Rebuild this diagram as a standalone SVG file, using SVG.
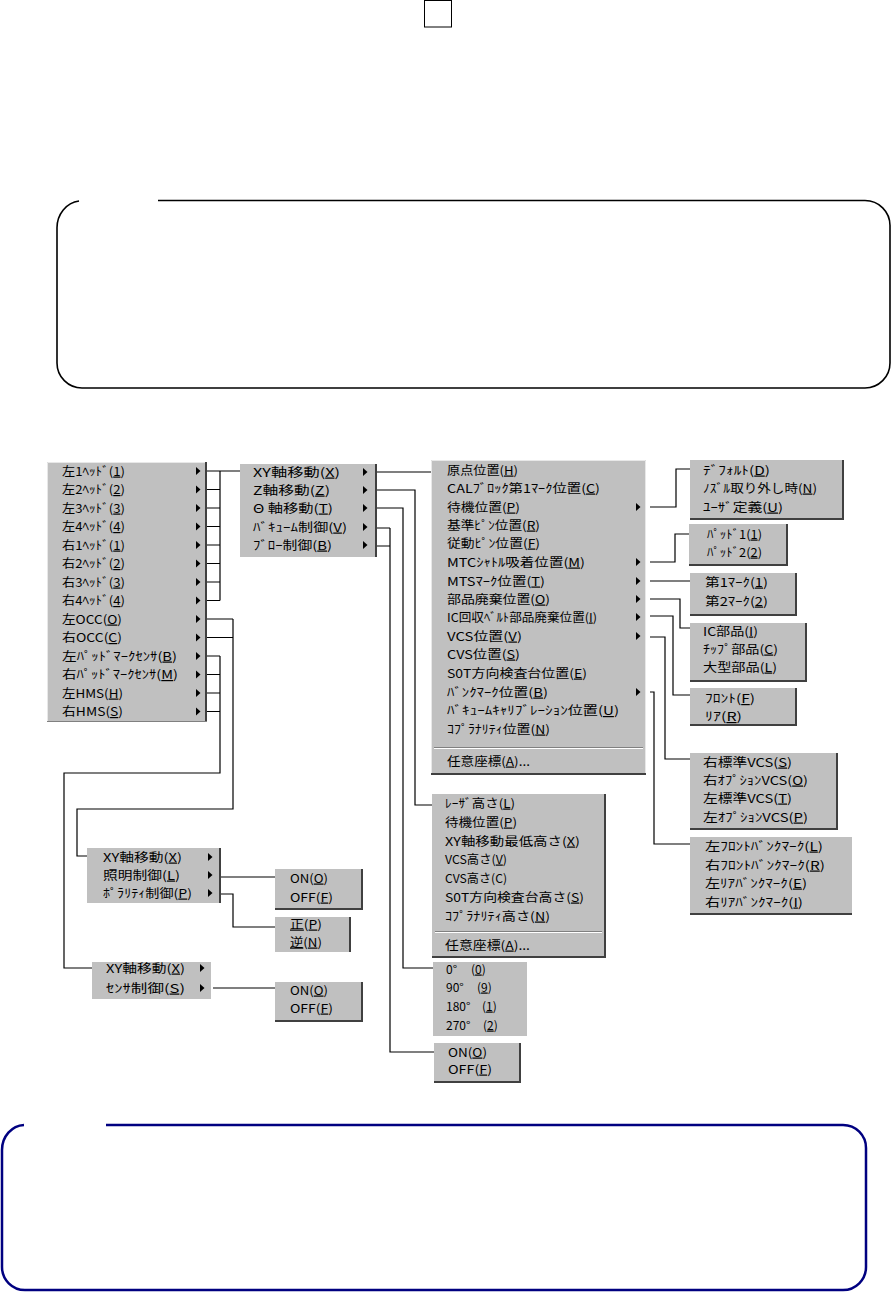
<svg xmlns="http://www.w3.org/2000/svg" xmlns:xlink="http://www.w3.org/1999/xlink" width="892" height="1292" viewBox="0 0 892 1292">
<style>
.m{fill:#c0c0c0}
.sh{stroke:#404040;stroke-width:2;fill:none}
.hi{stroke:#e8e8e8;stroke-width:1;fill:none}
.t{font-family:"Noto Sans CJK JP","Noto Sans",sans-serif;font-size:12px;fill:#000}
.u{text-decoration:underline}
.c{stroke:#000;stroke-width:1.2;fill:none}
.sepd{stroke:#808080;stroke-width:1}
.sepl{stroke:#ffffff;stroke-width:1}
</style>
<defs>
<path id="arr" d="M-2,-4 L2.5,0 L-2,4 Z" fill="#000"/>
</defs>
<rect width="892" height="1292" fill="#fff"/>

<g id="topbox"><rect x="424.5" y="0.5" width="27" height="26.5" fill="none" stroke="#000" stroke-width="1"/></g>
<g id="notebox1"><path d="M158,200.5 H865 A25,25 0 0 1 890,225.5 V363 A25,25 0 0 1 865,388 H82 A25,25 0 0 1 57,363 V228 A25,27 0 0 1 79,201" fill="none" stroke="#000" stroke-width="1.6"/></g>
<g id="notebox2"><path d="M106,1125 H843 A23,23 0 0 1 866,1148 V1267 A23,23 0 0 1 843,1290 H25 A23,23 0 0 1 2,1267 V1150 A23,25 0 0 1 24,1125" fill="none" stroke="#000080" stroke-width="2.5"/></g>

<g id="connectors">
<path class="c" d="M207,471 H240 M207,489.5 H220 M207,508 H220 M207,526.5 H220 M207,545 H220 M207,563.5 H220 M207,582 H220 M207,600.5 H220 M220,471 V600.5"/>
<path class="c" d="M207,619 H233 M207,637.5 H233 M233,619 V809 H77 V856 H87"/>
<path class="c" d="M207,656 H220 M207,674.5 H220 M207,693 H220 M207,711.5 H220 M220,656 V773 H64 V968 H92"/>
<path class="c" d="M377,472 H431"/>
<path class="c" d="M377,490 H415 V805 H432"/>
<path class="c" d="M377,508 H403 V968 H433"/>
<path class="c" d="M377,528 H390 M377,546 H390 M390,528 V1052 H434"/>
<path class="c" d="M650,507 H676 V469 H690"/>
<path class="c" d="M650,562 H675 V534 H689"/>
<path class="c" d="M650,581 H690"/>
<path class="c" d="M650,599 H680 V628 H690"/>
<path class="c" d="M650,616 H673 V695 H690"/>
<path class="c" d="M650,637 H665 V759 H690"/>
<path class="c" d="M650,692 H654 V844 H690"/>
<path class="c" d="M221,877 H275"/>
<path class="c" d="M221,894 H233 V927 H275"/>
<path class="c" d="M213,988 H275"/>
</g>

<g id="menu-head">
<rect class="m" x="47" y="462" width="160" height="260"/>
<path class="hi" d="M47.5,721 V462.5 H205"/>
<path class="sh" d="M206,462 V722"/>
<path class="sepd" d="M47,721.5 H207"/>
<g class="t">
<text x="62" y="475.5" textLength="63" lengthAdjust="spacingAndGlyphs">左1ﾍｯﾄﾞ(<tspan class="u">1</tspan>)</text>
<text x="62" y="494" textLength="63" lengthAdjust="spacingAndGlyphs">左2ﾍｯﾄﾞ(<tspan class="u">2</tspan>)</text>
<text x="62" y="512.5" textLength="63" lengthAdjust="spacingAndGlyphs">左3ﾍｯﾄﾞ(<tspan class="u">3</tspan>)</text>
<text x="62" y="531" textLength="63" lengthAdjust="spacingAndGlyphs">左4ﾍｯﾄﾞ(<tspan class="u">4</tspan>)</text>
<text x="62" y="549.5" textLength="63" lengthAdjust="spacingAndGlyphs">右1ﾍｯﾄﾞ(<tspan class="u">1</tspan>)</text>
<text x="62" y="568" textLength="63" lengthAdjust="spacingAndGlyphs">右2ﾍｯﾄﾞ(<tspan class="u">2</tspan>)</text>
<text x="62" y="586.5" textLength="63" lengthAdjust="spacingAndGlyphs">右3ﾍｯﾄﾞ(<tspan class="u">3</tspan>)</text>
<text x="62" y="605" textLength="63" lengthAdjust="spacingAndGlyphs">右4ﾍｯﾄﾞ(<tspan class="u">4</tspan>)</text>
<text x="62" y="623.5" textLength="60" lengthAdjust="spacingAndGlyphs">左OCC(<tspan class="u">O</tspan>)</text>
<text x="62" y="642" textLength="60" lengthAdjust="spacingAndGlyphs">右OCC(<tspan class="u">C</tspan>)</text>
<text x="62" y="660.5" textLength="115" lengthAdjust="spacingAndGlyphs">左ﾊﾟｯﾄﾞﾏｰｸｾﾝｻ(<tspan class="u">B</tspan>)</text>
<text x="62" y="679" textLength="116" lengthAdjust="spacingAndGlyphs">右ﾊﾟｯﾄﾞﾏｰｸｾﾝｻ(<tspan class="u">M</tspan>)</text>
<text x="62" y="697.5" textLength="61" lengthAdjust="spacingAndGlyphs">左HMS(<tspan class="u">H</tspan>)</text>
<text x="62" y="716" textLength="61" lengthAdjust="spacingAndGlyphs">右HMS(<tspan class="u">S</tspan>)</text>
</g>
<use xlink:href="#arr" x="198" y="471"/><use xlink:href="#arr" x="198" y="489.5"/><use xlink:href="#arr" x="198" y="508"/><use xlink:href="#arr" x="198" y="526.5"/><use xlink:href="#arr" x="198" y="545"/><use xlink:href="#arr" x="198" y="563.5"/><use xlink:href="#arr" x="198" y="582"/><use xlink:href="#arr" x="198" y="600.5"/><use xlink:href="#arr" x="198" y="619"/><use xlink:href="#arr" x="198" y="637.5"/><use xlink:href="#arr" x="198" y="656"/><use xlink:href="#arr" x="198" y="674.5"/><use xlink:href="#arr" x="198" y="693"/><use xlink:href="#arr" x="198" y="711.5"/>
</g>

<g id="menu-axis">
<rect class="m" x="240" y="464" width="137" height="93"/>
<path class="sh" d="M376,464 V557"/>
<g class="t">
<text x="253" y="476.5" textLength="87" lengthAdjust="spacingAndGlyphs">XY軸移動(<tspan class="u">X</tspan>)</text>
<text x="253" y="494.5" textLength="77" lengthAdjust="spacingAndGlyphs">Z軸移動(<tspan class="u">Z</tspan>)</text>
<text x="253" y="512.5" textLength="80" lengthAdjust="spacingAndGlyphs">Θ 軸移動(<tspan class="u">T</tspan>)</text>
<text x="253" y="531.5" textLength="94" lengthAdjust="spacingAndGlyphs">ﾊﾞｷｭｰﾑ制御(<tspan class="u">V</tspan>)</text>
<text x="253" y="549.5" textLength="79" lengthAdjust="spacingAndGlyphs">ﾌﾞﾛｰ制御(<tspan class="u">B</tspan>)</text>
</g>
<use xlink:href="#arr" x="365" y="472"/><use xlink:href="#arr" x="365" y="490"/><use xlink:href="#arr" x="365" y="508"/><use xlink:href="#arr" x="365" y="527"/><use xlink:href="#arr" x="365" y="545"/>
</g>

<g id="menu-xy">
<rect class="m" x="431" y="460" width="215" height="315"/>
<path class="hi" d="M431.5,774 V460.5 H645.5 V774"/>
<path class="sh" d="M431,774 H646"/>
<line class="sepd" x1="434" y1="747.5" x2="643" y2="747.5"/>
<line class="sepl" x1="434" y1="748.5" x2="643" y2="748.5"/>
<g class="t">
<text x="447" y="474.5" textLength="71" lengthAdjust="spacingAndGlyphs">原点位置(<tspan class="u">H</tspan>)</text>
<text x="447" y="492.5" textLength="153" lengthAdjust="spacingAndGlyphs">CALﾌﾞﾛｯｸ第1ﾏｰｸ位置(<tspan class="u">C</tspan>)</text>
<text x="447" y="511.5" textLength="73" lengthAdjust="spacingAndGlyphs">待機位置(<tspan class="u">P</tspan>)</text>
<text x="447" y="529.5" textLength="93" lengthAdjust="spacingAndGlyphs">基準ﾋﾟﾝ位置(<tspan class="u">R</tspan>)</text>
<text x="447" y="547.5" textLength="93" lengthAdjust="spacingAndGlyphs">従動ﾋﾟﾝ位置(<tspan class="u">F</tspan>)</text>
<text x="447" y="566.5" textLength="138" lengthAdjust="spacingAndGlyphs">MTCｼｬﾄﾙ吸着位置(<tspan class="u">M</tspan>)</text>
<text x="447" y="585.5" textLength="98" lengthAdjust="spacingAndGlyphs">MTSﾏｰｸ位置(<tspan class="u">T</tspan>)</text>
<text x="447" y="603.5" textLength="103" lengthAdjust="spacingAndGlyphs">部品廃棄位置(<tspan class="u">O</tspan>)</text>
<text x="447" y="621.5" textLength="150" lengthAdjust="spacingAndGlyphs">IC回収ﾍﾞﾙﾄ部品廃棄位置(<tspan class="u">I</tspan>)</text>
<text x="447" y="640.5" textLength="75" lengthAdjust="spacingAndGlyphs">VCS位置(<tspan class="u">V</tspan>)</text>
<text x="447" y="658.5" textLength="73" lengthAdjust="spacingAndGlyphs">CVS位置(<tspan class="u">S</tspan>)</text>
<text x="447" y="677.5" textLength="140" lengthAdjust="spacingAndGlyphs">S0T方向検査台位置(<tspan class="u">E</tspan>)</text>
<text x="447" y="696.5" textLength="101" lengthAdjust="spacingAndGlyphs">ﾊﾞﾝｸﾏｰｸ位置(<tspan class="u">B</tspan>)</text>
<text x="447" y="715" textLength="172" lengthAdjust="spacingAndGlyphs">ﾊﾞｷｭｰﾑｷｬﾘﾌﾞﾚｰｼｮﾝ位置(<tspan class="u">U</tspan>)</text>
<text x="447" y="733.5" textLength="103" lengthAdjust="spacingAndGlyphs">ｺﾌﾟﾗﾅﾘﾃｨ位置(<tspan class="u">N</tspan>)</text>
<text x="447" y="765.5" textLength="83" lengthAdjust="spacingAndGlyphs">任意座標(<tspan class="u">A</tspan>)...</text>
</g>
<use xlink:href="#arr" x="638" y="507"/><use xlink:href="#arr" x="638" y="562"/><use xlink:href="#arr" x="638" y="581"/><use xlink:href="#arr" x="638" y="599"/><use xlink:href="#arr" x="638" y="617"/><use xlink:href="#arr" x="638" y="636"/><use xlink:href="#arr" x="638" y="692"/>
</g>

<g id="menu-wait">
<rect class="m" x="690" y="460" width="154" height="60"/>
<path class="sh" d="M690,519 H843 V460"/>
<g class="t">
<text x="703" y="474.5" textLength="67" lengthAdjust="spacingAndGlyphs">ﾃﾞﾌｫﾙﾄ(<tspan class="u">D</tspan>)</text>
<text x="703" y="492.5" textLength="114" lengthAdjust="spacingAndGlyphs">ﾉｽﾞﾙ取り外し時(<tspan class="u">N</tspan>)</text>
<text x="703" y="511.5" textLength="80" lengthAdjust="spacingAndGlyphs">ﾕｰｻﾞ定義(<tspan class="u">U</tspan>)</text>
</g>
</g>

<g id="menu-pad">
<rect class="m" x="689" y="524" width="99" height="42"/>
<path class="sh" d="M689,565 H787 V524"/>
<g class="t">
<text x="707" y="538.5" textLength="55" lengthAdjust="spacingAndGlyphs">ﾊﾟｯﾄﾞ1(<tspan class="u">1</tspan>)</text>
<text x="707" y="556.5" textLength="55" lengthAdjust="spacingAndGlyphs">ﾊﾟｯﾄﾞ2(<tspan class="u">2</tspan>)</text>
</g>
</g>

<g id="menu-mark">
<rect class="m" x="690" y="573" width="107" height="43"/>
<path class="sh" d="M690,615 H796 V573"/>
<g class="t">
<text x="705" y="586.5" textLength="63" lengthAdjust="spacingAndGlyphs">第1ﾏｰｸ(<tspan class="u">1</tspan>)</text>
<text x="705" y="605.5" textLength="63" lengthAdjust="spacingAndGlyphs">第2ﾏｰｸ(<tspan class="u">2</tspan>)</text>
</g>
</g>

<g id="menu-parts">
<rect class="m" x="690" y="623" width="117" height="59"/>
<path class="sh" d="M690,681 H806 V623"/>
<g class="t">
<text x="703" y="635.5" textLength="55" lengthAdjust="spacingAndGlyphs">IC部品(<tspan class="u">I</tspan>)</text>
<text x="703" y="653.5" textLength="75" lengthAdjust="spacingAndGlyphs">ﾁｯﾌﾟ部品(<tspan class="u">C</tspan>)</text>
<text x="703" y="671.5" textLength="74" lengthAdjust="spacingAndGlyphs">大型部品(<tspan class="u">L</tspan>)</text>
</g>
</g>

<g id="menu-belt">
<rect class="m" x="690" y="688" width="107" height="38"/>
<path class="sh" d="M690,725 H796 V688"/>
<g class="t">
<text x="705" y="703" textLength="50" lengthAdjust="spacingAndGlyphs">ﾌﾛﾝﾄ(<tspan class="u">F</tspan>)</text>
<text x="705" y="721" textLength="37" lengthAdjust="spacingAndGlyphs">ﾘｱ(<tspan class="u">R</tspan>)</text>
</g>
</g>

<g id="menu-vcs">
<rect class="m" x="690" y="753" width="148" height="77"/>
<path class="sh" d="M690,829 H837 V753"/>
<g class="t">
<text x="703" y="766.5" textLength="89" lengthAdjust="spacingAndGlyphs">右標準VCS(<tspan class="u">S</tspan>)</text>
<text x="703" y="784.5" textLength="105" lengthAdjust="spacingAndGlyphs">右ｵﾌﾟｼｮﾝVCS(<tspan class="u">O</tspan>)</text>
<text x="703" y="802.5" textLength="89" lengthAdjust="spacingAndGlyphs">左標準VCS(<tspan class="u">T</tspan>)</text>
<text x="703" y="821.5" textLength="105" lengthAdjust="spacingAndGlyphs">左ｵﾌﾟｼｮﾝVCS(<tspan class="u">P</tspan>)</text>
</g>
</g>

<g id="menu-bank">
<rect class="m" x="690" y="837" width="162" height="78"/>
<path class="sh" d="M690,914 H852"/>
<g class="t">
<text x="705" y="850.5" textLength="118" lengthAdjust="spacingAndGlyphs">左ﾌﾛﾝﾄﾊﾞﾝｸﾏｰｸ(<tspan class="u">L</tspan>)</text>
<text x="705" y="869.5" textLength="120" lengthAdjust="spacingAndGlyphs">右ﾌﾛﾝﾄﾊﾞﾝｸﾏｰｸ(<tspan class="u">R</tspan>)</text>
<text x="705" y="887.5" textLength="102" lengthAdjust="spacingAndGlyphs">左ﾘｱﾊﾞﾝｸﾏｰｸ(<tspan class="u">E</tspan>)</text>
<text x="705" y="906.5" textLength="98" lengthAdjust="spacingAndGlyphs">右ﾘｱﾊﾞﾝｸﾏｰｸ(<tspan class="u">I</tspan>)</text>
</g>
</g>

<g id="menu-z">
<rect class="m" x="432" y="794" width="174" height="164"/>
<path class="sh" d="M432,957 H605 V794"/>
<line class="sepd" x1="435" y1="931.5" x2="602" y2="931.5"/>
<line class="sepl" x1="435" y1="932.5" x2="602" y2="932.5"/>
<g class="t">
<text x="445" y="807.5" textLength="70" lengthAdjust="spacingAndGlyphs">ﾚｰｻﾞ高さ(<tspan class="u">L</tspan>)</text>
<text x="445" y="826.5" textLength="72" lengthAdjust="spacingAndGlyphs">待機位置(<tspan class="u">P</tspan>)</text>
<text x="445" y="845.5" textLength="135" lengthAdjust="spacingAndGlyphs">XY軸移動最低高さ(<tspan class="u">X</tspan>)</text>
<text x="445" y="863.5" textLength="62" lengthAdjust="spacingAndGlyphs">VCS高さ(<tspan class="u">V</tspan>)</text>
<text x="445" y="882.5" textLength="62" lengthAdjust="spacingAndGlyphs">CVS高さ(C)</text>
<text x="445" y="901.5" textLength="139" lengthAdjust="spacingAndGlyphs">S0T方向検査台高さ(<tspan class="u">S</tspan>)</text>
<text x="445" y="920.5" textLength="105" lengthAdjust="spacingAndGlyphs">ｺﾌﾟﾗﾅﾘﾃｨ高さ(<tspan class="u">N</tspan>)</text>
<text x="445" y="949.5" textLength="85" lengthAdjust="spacingAndGlyphs">任意座標(<tspan class="u">A</tspan>)...</text>
</g>
</g>

<g id="menu-theta">
<rect class="m" x="433" y="962" width="94" height="74"/>
<g class="t">
<text x="446" y="973.5">0° <tspan x="471">(<tspan class="u">0</tspan>)</tspan></text>
<text x="446" y="991.5">90° <tspan x="477">(<tspan class="u">9</tspan>)</tspan></text>
<text x="446" y="1010.5">180° <tspan x="482">(<tspan class="u">1</tspan>)</tspan></text>
<text x="446" y="1029.5">270° <tspan x="483">(<tspan class="u">2</tspan>)</tspan></text>
</g>
</g>

<g id="menu-vac">
<rect class="m" x="434" y="1043" width="87" height="40"/>
<path class="sh" d="M434,1082 H520 V1043"/>
<g class="t">
<text x="448" y="1056.5" textLength="39" lengthAdjust="spacingAndGlyphs">ON(<tspan class="u">O</tspan>)</text>
<text x="448" y="1073.5" textLength="44" lengthAdjust="spacingAndGlyphs">OFF(<tspan class="u">F</tspan>)</text>
</g>
</g>

<g id="menu-occ">
<rect class="m" x="87" y="848" width="133" height="55"/>
<path class="sh" d="M220,848 V903"/>
<g class="t">
<text x="103" y="861.5" textLength="79" lengthAdjust="spacingAndGlyphs">XY軸移動(<tspan class="u">X</tspan>)</text>
<text x="103" y="879.5" textLength="77" lengthAdjust="spacingAndGlyphs">照明制御(<tspan class="u">L</tspan>)</text>
<text x="103" y="897.5" textLength="89" lengthAdjust="spacingAndGlyphs">ﾎﾟﾗﾘﾃｨ制御(<tspan class="u">P</tspan>)</text>
</g>
<use xlink:href="#arr" x="210" y="857"/><use xlink:href="#arr" x="210" y="875"/><use xlink:href="#arr" x="210" y="893"/>
</g>

<g id="menu-light">
<rect class="m" x="275" y="869" width="88" height="41"/>
<path class="sh" d="M275,909 H362 V869"/>
<g class="t">
<text x="290" y="882.5" textLength="38" lengthAdjust="spacingAndGlyphs">ON(<tspan class="u">O</tspan>)</text>
<text x="290" y="901.5" textLength="43" lengthAdjust="spacingAndGlyphs">OFF(<tspan class="u">F</tspan>)</text>
</g>
</g>

<g id="menu-pol">
<rect class="m" x="275" y="917" width="76" height="35"/>
<path class="sh" d="M350,917 V952"/>
<g class="t">
<text x="290" y="928.5" textLength="32" lengthAdjust="spacingAndGlyphs"><tspan class="u">正</tspan>(<tspan class="u">P</tspan>)</text>
<text x="290" y="946.5" textLength="32" lengthAdjust="spacingAndGlyphs"><tspan class="u">逆</tspan>(<tspan class="u">N</tspan>)</text>
</g>
</g>

<g id="menu-pad-sensor">
<rect class="m" x="92" y="962" width="119" height="37"/>
<g class="t">
<text x="106" y="972.5" textLength="79" lengthAdjust="spacingAndGlyphs">XY軸移動(<tspan class="u">X</tspan>)</text>
<text x="106" y="992.5" textLength="79" lengthAdjust="spacingAndGlyphs">ｾﾝｻ制御(<tspan class="u">S</tspan>)</text>
</g>
<use xlink:href="#arr" x="202" y="968"/><use xlink:href="#arr" x="202" y="988"/>
</g>

<g id="menu-sensor">
<rect class="m" x="275" y="982" width="88" height="40"/>
<path class="sh" d="M275,1021 H362 V982"/>
<g class="t">
<text x="290" y="994.5" textLength="38" lengthAdjust="spacingAndGlyphs">ON(<tspan class="u">O</tspan>)</text>
<text x="290" y="1012.5" textLength="43" lengthAdjust="spacingAndGlyphs">OFF(<tspan class="u">F</tspan>)</text>
</g>
</g>
</svg>
